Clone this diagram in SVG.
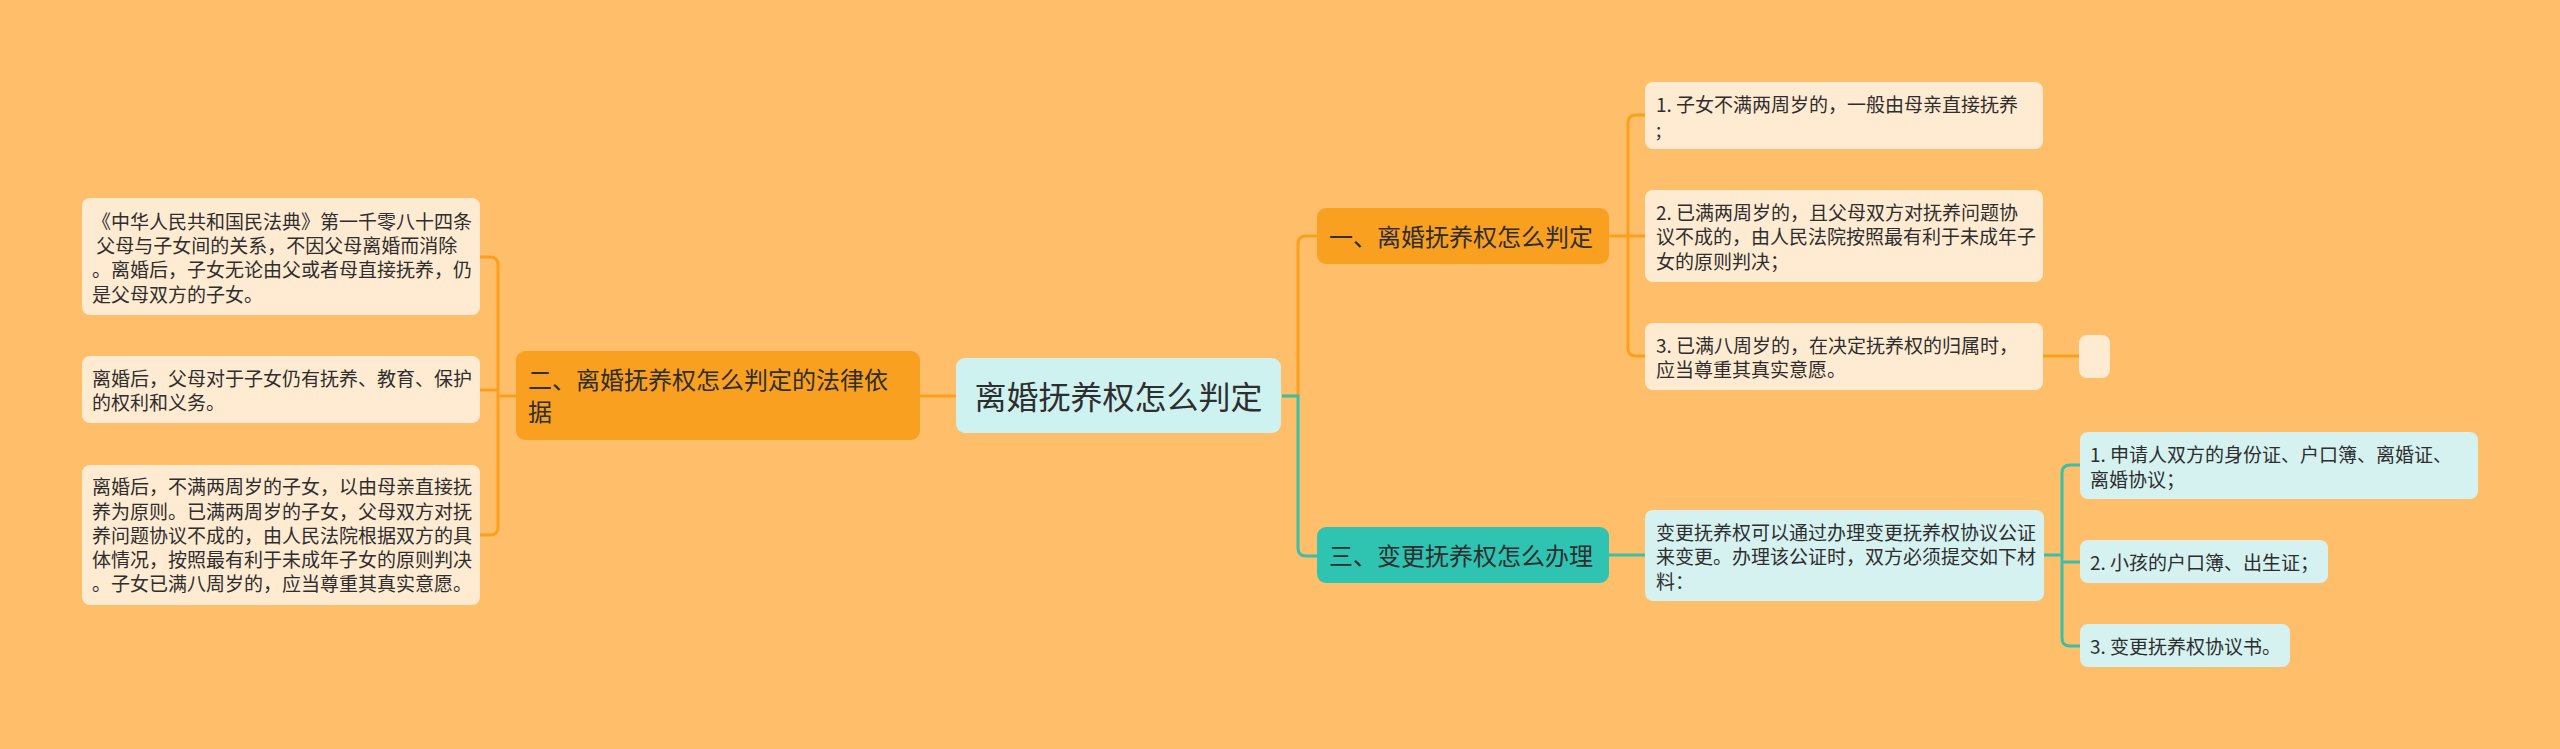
<svg xmlns="http://www.w3.org/2000/svg" width="2560" height="749" viewBox="0 0 2560 749">
<style>
text{font-family:"Noto Sans CJK SC","Noto Sans",sans-serif;fill:#2e2e2e}
.s{font-size:19px}
.m{font-size:24px}
.l{font-size:32px}
.cream{fill:#FEEBD2}
.orn{fill:#FAA020}
.tealn{fill:#2FC4B1}
.tealc{fill:#D5F2F1}
.ctr{fill:#CDF2F0}
.co{fill:none;stroke:#F9A11F;stroke-width:3}
.ct{fill:none;stroke:#3BBFA9;stroke-width:3}
</style>
<rect width="2560" height="749" fill="#FEBE6A"/>
<g id="connectors">
<path class="co" d="M1282,396 H1298 V244 Q1298,236 1306,236 H1317"/>
<path class="ct" d="M1282,396 H1298 V548 Q1298,556 1306,556 H1317"/>
<path class="co" d="M1609,236 H1645"/>
<path class="co" d="M1645,115 H1636 Q1628,115 1628,123 V348 Q1628,356 1636,356 H1645"/>
<path class="co" d="M2043,356 H2079"/>
<path class="co" d="M956,396 H920"/>
<path class="co" d="M516,396 H498"/>
<path class="co" d="M480,257 H490 Q498,257 498,265 V527 Q498,535 490,535 H480"/>
<path class="co" d="M480,390 H498"/>
<path class="ct" d="M1609,555 H1645"/>
<path class="ct" d="M2044,555 H2062"/>
<path class="ct" d="M2080,465 H2070 Q2062,465 2062,473 V638 Q2062,646 2070,646 H2080"/>
<path class="ct" d="M2062,562 H2080"/>
</g>
<g id="center">
<rect class="ctr" x="956" y="358" width="325" height="75" rx="9"/>
<text class="l" x="1118.5" y="409" text-anchor="middle">离婚抚养权怎么判定</text>
</g>
<g id="n2">
<rect class="orn" x="516" y="351" width="404" height="89" rx="9"/>
<text class="m" x="528" y="389">二、离婚抚养权怎么判定的法律依</text>
<text class="m" x="528" y="421">据</text>
</g>
<g id="n1">
<rect class="orn" x="1317" y="208" width="292" height="56" rx="9"/>
<text class="m" x="1329" y="246">一、离婚抚养权怎么判定</text>
</g>
<g id="n3">
<rect class="tealn" x="1317" y="527" width="292" height="56" rx="9"/>
<text class="m" x="1329" y="565">三、变更抚养权怎么办理</text>
</g>
<g id="n1c1">
<rect class="cream" x="1645" y="82" width="398" height="67" rx="8"/>
<text class="s" x="1656" y="112">1. 子女不满两周岁的，一般由母亲直接抚养</text>
<text class="s" x="1656" y="137">;</text>
</g>
<g id="n1c2">
<rect class="cream" x="1645" y="190" width="398" height="92" rx="8"/>
<text class="s" x="1656" y="220">2. 已满两周岁的，且父母双方对抚养问题协</text>
<text class="s" x="1656" y="244">议不成的，由人民法院按照最有利于未成年子</text>
<text class="s" x="1656" y="269">女的原则判决；</text>
</g>
<g id="n1c3">
<rect class="cream" x="1645" y="323" width="398" height="67" rx="8"/>
<text class="s" x="1656" y="353">3. 已满八周岁的，在决定抚养权的归属时，</text>
<text class="s" x="1656" y="377">应当尊重其真实意愿。</text>
</g>
<g id="n1c3e">
<rect class="cream" x="2079" y="335" width="31" height="43" rx="8"/>
</g>
<g id="n3c">
<rect class="tealc" x="1645" y="510" width="399" height="91" rx="8"/>
<text class="s" x="1656" y="540">变更抚养权可以通过办理变更抚养权协议公证</text>
<text class="s" x="1656" y="564">来变更。办理该公证时，双方必须提交如下材</text>
<text class="s" x="1656" y="589">料：</text>
</g>
<g id="n3c1">
<rect class="tealc" x="2080" y="432" width="398" height="67" rx="8"/>
<text class="s" x="2090" y="462">1. 申请人双方的身份证、户口簿、离婚证、</text>
<text class="s" x="2090" y="487">离婚协议；</text>
</g>
<g id="n3c2">
<rect class="tealc" x="2080" y="540" width="248" height="43" rx="8"/>
<text class="s" x="2090" y="570">2. 小孩的户口簿、出生证；</text>
</g>
<g id="n3c3">
<rect class="tealc" x="2080" y="624" width="210" height="43" rx="8"/>
<text class="s" x="2090" y="654">3. 变更抚养权协议书。</text>
</g>
<g id="n2c1">
<rect class="cream" x="82" y="198" width="398" height="117" rx="8"/>
<text class="s" x="92" y="229">《中华人民共和国民法典》第一千零八十四条</text>
<text class="s" x="92" y="253" xml:space="preserve"> 父母与子女间的关系，不因父母离婚而消除</text>
<text class="s" x="92" y="277">。离婚后，子女无论由父或者母直接抚养，仍</text>
<text class="s" x="92" y="302">是父母双方的子女。</text>
</g>
<g id="n2c2">
<rect class="cream" x="82" y="356" width="398" height="67" rx="8"/>
<text class="s" x="92" y="386">离婚后，父母对于子女仍有抚养、教育、保护</text>
<text class="s" x="92" y="410">的权利和义务。</text>
</g>
<g id="n2c3">
<rect class="cream" x="82" y="465" width="398" height="140" rx="8"/>
<text class="s" x="92" y="494">离婚后，不满两周岁的子女，以由母亲直接抚</text>
<text class="s" x="92" y="519">养为原则。已满两周岁的子女，父母双方对抚</text>
<text class="s" x="92" y="543">养问题协议不成的，由人民法院根据双方的具</text>
<text class="s" x="92" y="567">体情况，按照最有利于未成年子女的原则判决</text>
<text class="s" x="92" y="591">。子女已满八周岁的，应当尊重其真实意愿。</text>
</g>
</svg>
